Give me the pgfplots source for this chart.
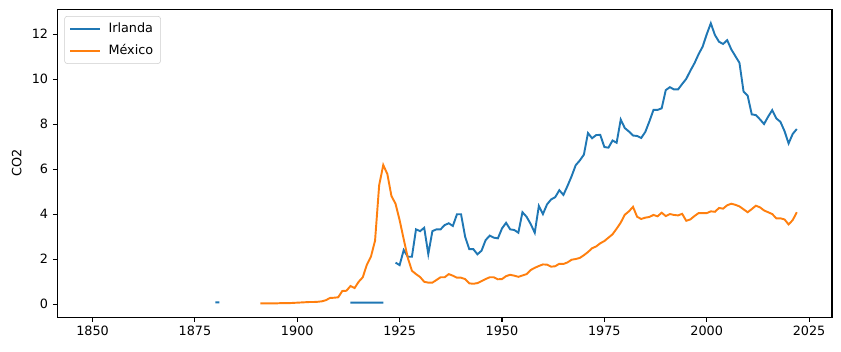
\documentclass[border=0pt]{standalone}
\usepackage{fontspec}
\setmainfont{DejaVu Sans}
\usepackage{pgfplots}
\pgfplotsset{compat=1.18}
\definecolor{tabblue}{HTML}{1F77B4}
\definecolor{taborange}{HTML}{FF7F0E}
\begin{document}
\begin{tikzpicture}
\useasboundingbox (-43pt,-25.5pt) rectangle (587.75pt,237.8pt);
\begin{axis}[
  scale only axis, width=581pt, height=230.8pt,
  at={(0,0)}, anchor=south west,
  xmin=1841.4, xmax=2030.6, ymin=-0.58, ymax=13.1,
  xtick={1850,1875,...,2025}, ytick={0,2,...,12},
  tick pos=left, tick align=outside, major tick length=3.4pt,
  tick style={line width=0.77pt, black},
  axis line style={line width=0.77pt},
  /pgf/number format/assume math mode=true,
  /pgf/number format/1000 sep={},
  tick label style={font=\fontsize{9.6}{11.5}\selectfont},
  every axis y label/.style={at={(axis description cs:-0.0525,0.5)}, rotate=90, anchor=center, font=\fontsize{9.6}{11.5}\selectfont},
  ylabel={CO2},
  unbounded coords=jump,
  legend cell align=left,
  legend style={at={(axis description cs:0,1)}, anchor=north west, xshift=5.25pt, yshift=-5pt,
    draw=black!20, rounded corners=2pt, fill=white, font=\fontsize{9.6}{11.5}\selectfont,
    inner xsep=3.5pt, inner ysep=3pt, row sep=3.5pt,
    /tikz/every odd column/.append style={column sep=4pt}},
  legend image code/.code={\draw[#1, line width=1.44pt] (0pt,0pt) -- (22pt,0pt);},
]
\addplot[tabblue, line width=1.44pt] coordinates {
(1880,0.07)(1881,0.07)(1882,nan)
(1913,0.06)(1914,0.06)(1915,0.06)(1916,0.06)(1917,0.06)(1918,0.06)(1919,0.06)(1920,0.06)(1921,0.06)(1922,nan)
(1924,1.84)(1925,1.73)(1926,2.40)(1927,2.10)(1928,2.10)(1929,3.32)(1930,3.24)(1931,3.39)(1932,2.22)(1933,3.24)
(1934,3.32)(1935,3.32)(1936,3.51)(1937,3.59)(1938,3.47)(1939,3.99)(1940,3.99)(1941,2.99)(1942,2.44)(1943,2.44)
(1944,2.21)(1945,2.37)(1946,2.84)(1947,3.04)(1948,2.95)(1949,2.92)(1950,3.36)(1951,3.61)(1952,3.32)(1953,3.29)
(1954,3.17)(1955,4.08)(1956,3.88)(1957,3.56)(1958,3.17)(1959,4.36)(1960,4.00)(1961,4.43)(1962,4.65)(1963,4.75)
(1964,5.06)(1965,4.85)(1966,5.25)(1967,5.68)(1968,6.17)(1969,6.38)(1970,6.64)(1971,7.60)(1972,7.37)(1973,7.51)
(1974,7.52)(1975,6.98)(1976,6.95)(1977,7.27)(1978,7.17)(1979,8.20)(1980,7.82)(1981,7.67)(1982,7.49)(1983,7.47)
(1984,7.38)(1985,7.65)(1986,8.12)(1987,8.63)(1988,8.63)(1989,8.70)(1990,9.51)(1991,9.64)(1992,9.54)(1993,9.54)
(1994,9.78)(1995,10.01)(1996,10.37)(1997,10.70)(1998,11.10)(1999,11.44)(2000,11.99)(2001,12.48)(2002,11.96)(2003,11.66)
(2004,11.56)(2005,11.73)(2006,11.32)(2007,11.02)(2008,10.72)(2009,9.44)(2010,9.26)(2011,8.43)(2012,8.40)(2013,8.21)
(2014,8.00)(2015,8.33)(2016,8.62)(2017,8.25)(2018,8.10)(2019,7.69)(2020,7.14)(2021,7.56)(2022,7.78)
};
\addlegendentry{Irlanda}
\addplot[taborange, line width=1.44pt] coordinates {
(1891,0.03)(1892,0.03)(1893,0.03)(1894,0.03)(1895,0.03)(1896,0.04)(1897,0.04)(1898,0.04)(1899,0.05)(1900,0.06)
(1901,0.07)(1902,0.08)(1903,0.09)(1904,0.09)(1905,0.10)(1906,0.12)(1907,0.17)(1908,0.27)(1909,0.28)(1910,0.30)
(1911,0.58)(1912,0.59)(1913,0.80)(1914,0.71)(1915,0.99)(1916,1.19)(1917,1.75)(1918,2.11)(1919,2.82)(1920,5.28)
(1921,6.18)(1922,5.78)(1923,4.80)(1924,4.46)(1925,3.73)(1926,2.88)(1927,2.05)(1928,1.48)(1929,1.33)(1930,1.20)
(1931,0.99)(1932,0.95)(1933,0.95)(1934,1.07)(1935,1.19)(1936,1.19)(1937,1.33)(1938,1.26)(1939,1.17)(1940,1.17)
(1941,1.11)(1942,0.92)(1943,0.90)(1944,0.93)(1945,1.02)(1946,1.11)(1947,1.19)(1948,1.19)(1949,1.10)(1950,1.11)
(1951,1.24)(1952,1.30)(1953,1.26)(1954,1.21)(1955,1.27)(1956,1.33)(1957,1.51)(1958,1.61)(1959,1.69)(1960,1.76)
(1961,1.75)(1962,1.66)(1963,1.68)(1964,1.79)(1965,1.78)(1966,1.85)(1967,1.97)(1968,2.00)(1969,2.05)(1970,2.17)
(1971,2.31)(1972,2.48)(1973,2.56)(1974,2.70)(1975,2.80)(1976,2.95)(1977,3.10)(1978,3.35)(1979,3.62)(1980,3.97)
(1981,4.12)(1982,4.32)(1983,3.88)(1984,3.78)(1985,3.84)(1986,3.87)(1987,3.96)(1988,3.90)(1989,4.06)(1990,3.91)
(1991,4.00)(1992,3.96)(1993,3.94)(1994,4.01)(1995,3.70)(1996,3.76)(1997,3.91)(1998,4.04)(1999,4.04)(2000,4.04)
(2001,4.12)(2002,4.10)(2003,4.27)(2004,4.24)(2005,4.39)(2006,4.46)(2007,4.41)(2008,4.34)(2009,4.21)(2010,4.08)
(2011,4.22)(2012,4.37)(2013,4.30)(2014,4.16)(2015,4.08)(2016,4.00)(2017,3.81)(2018,3.81)(2019,3.76)(2020,3.54)
(2021,3.73)(2022,4.08)
};
\addlegendentry{México}
\end{axis}
\end{tikzpicture}
\end{document}
